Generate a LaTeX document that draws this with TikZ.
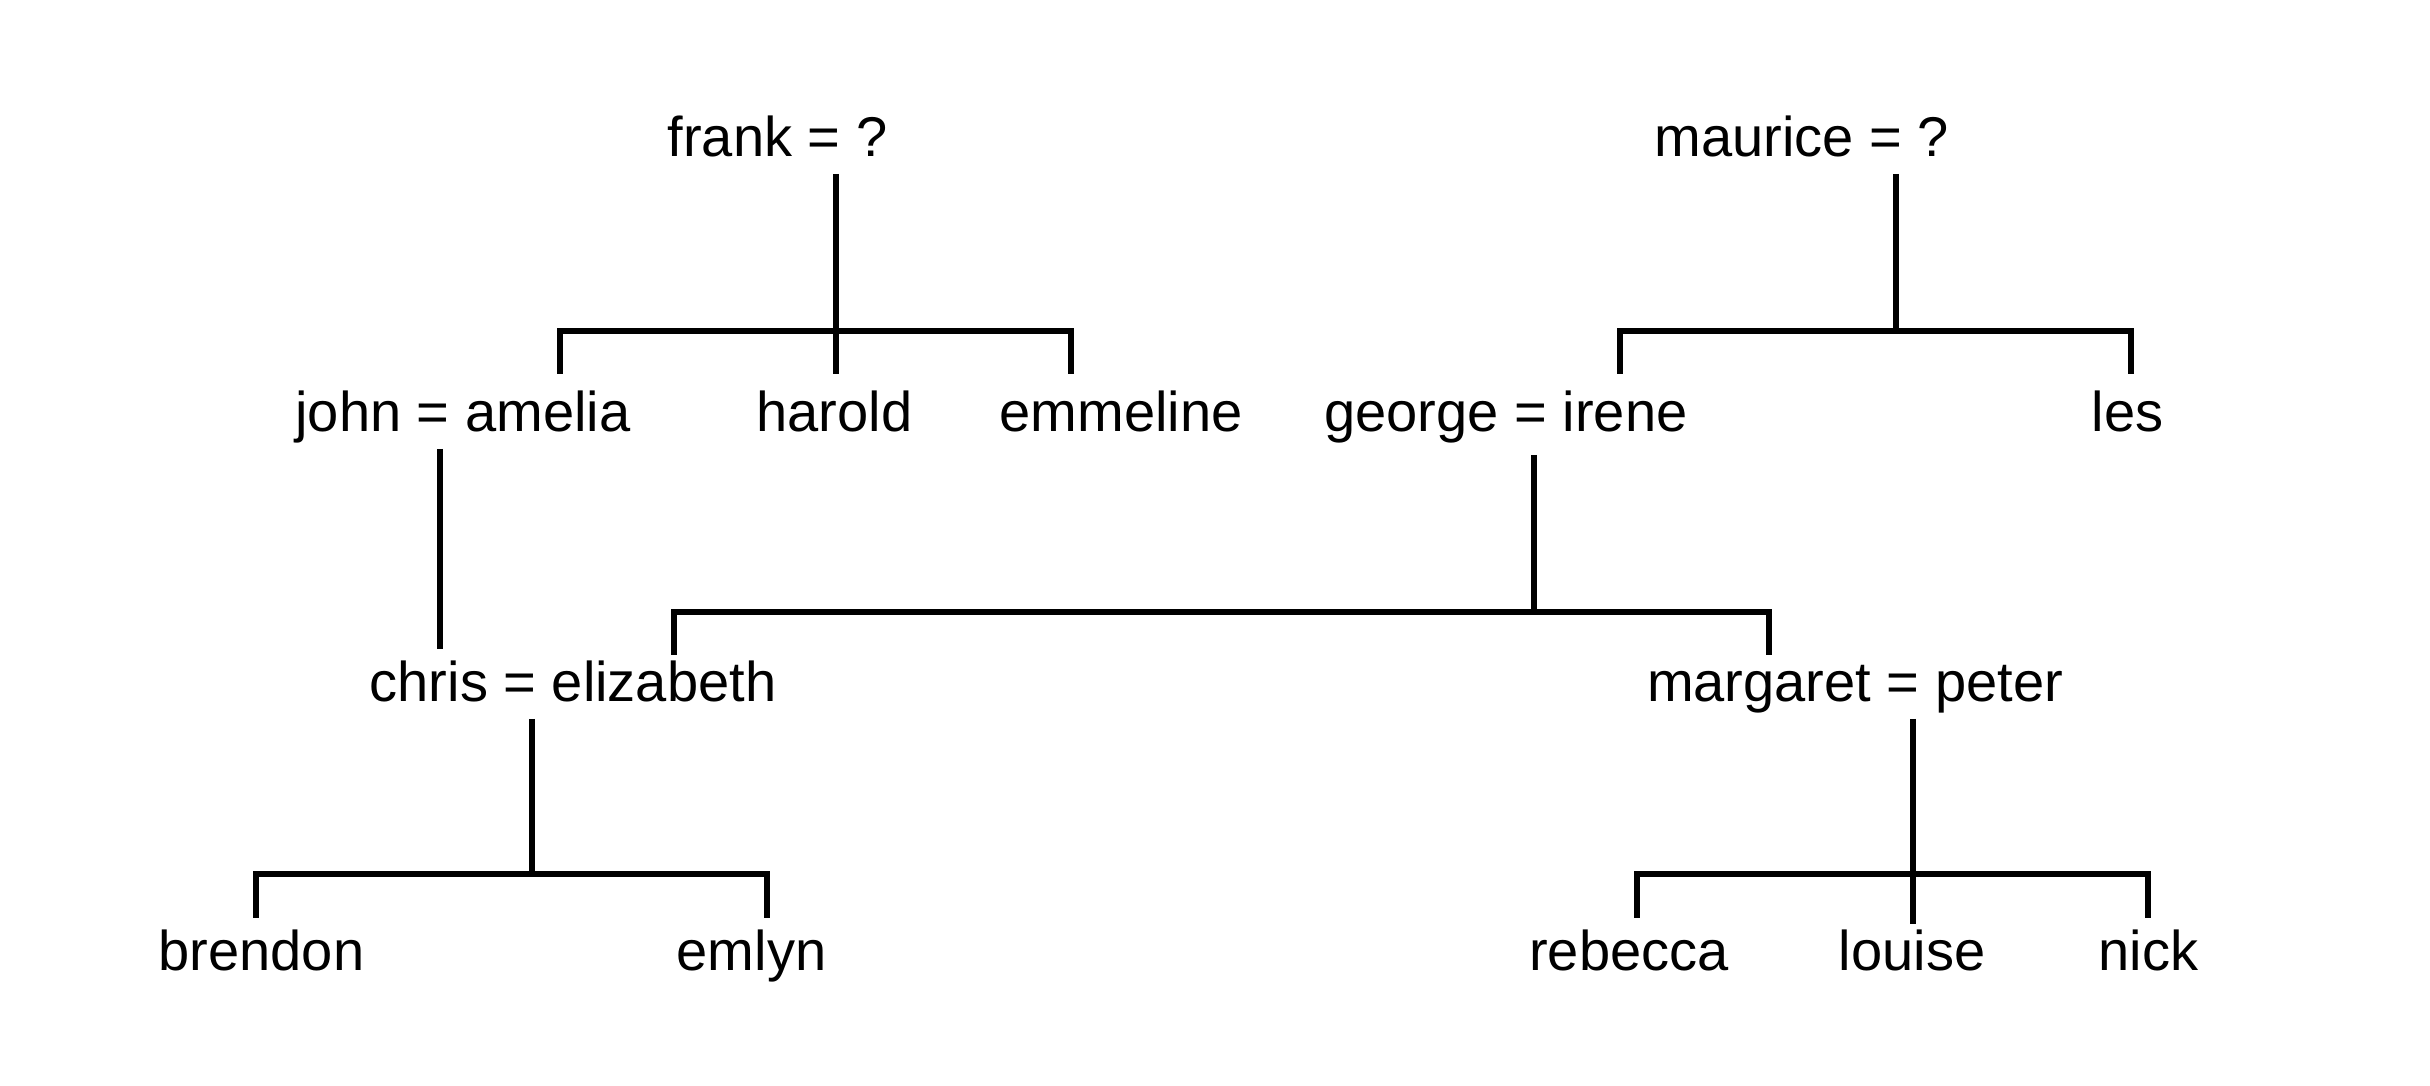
\documentclass[tikz,border=0pt]{standalone}
\usepackage{fontspec}
\setmainfont{Liberation Sans}
\begin{document}
\begin{tikzpicture}[x=0.01cm,y=-0.01cm,
  person/.style={anchor=base,inner sep=0pt,font=\fontsize{15.94}{19}\selectfont},
  link/.style={line width=1.7pt,line cap=butt,line join=miter}]
\useasboundingbox[fill=white] (0,0) rectangle (2430,1086);
% people
\node[person] (frank)    at (777.5,156.5) {frank = ?};
\node[person] (maurice)  at (1802,156.5) {maurice = ?};
\node[person] (john)     at (463,432) {john = amelia};
\node[person] (harold)   at (834.5,432) {harold};
\node[person] (emmeline) at (1121,432) {emmeline};
\node[person] (george)   at (1506,432) {george = irene};
\node[person] (les)      at (2127.5,432) {les};
\node[person] (chris)    at (573,702) {chris = elizabeth};
\node[person] (margaret) at (1855,702) {margaret = peter};
\node[person] (brendon)  at (261.5,971) {brendon};
\node[person] (emlyn)    at (751.5,971) {emlyn};
\node[person] (rebecca)  at (1629,971) {rebecca};
\node[person] (louise)   at (1912,971) {louise};
\node[person] (nick)     at (2148.5,971) {nick};
% junction coordinates
\coordinate (fT) at (836,174);   \coordinate (fJ) at (836,331);
\coordinate (fL) at (560,331);   \coordinate (fR) at (1071,331);
\coordinate (fLd) at (560,374);  \coordinate (fMd) at (836,374); \coordinate (fRd) at (1071,374);
\coordinate (mT) at (1896,174);  \coordinate (mJ) at (1896,331);
\coordinate (mL) at (1620,331);  \coordinate (mR) at (2131,331);
\coordinate (mLd) at (1620,374); \coordinate (mRd) at (2131,374);
\coordinate (jT) at (440,449);   \coordinate (jB) at (440,649);
\coordinate (gT) at (1534,455);  \coordinate (gJ) at (1534,612);
\coordinate (gL) at (674,612);   \coordinate (gR) at (1769,612);
\coordinate (gLd) at (674,655);  \coordinate (gRd) at (1769,655);
\coordinate (cT) at (532,719);   \coordinate (cJ) at (532,874);
\coordinate (cL) at (256,874);   \coordinate (cR) at (767,874);
\coordinate (cLd) at (256,918);  \coordinate (cRd) at (767,918);
\coordinate (pT) at (1913,719);  \coordinate (pJ) at (1913,874);
\coordinate (pL) at (1637,874);  \coordinate (pR) at (2148,874);
\coordinate (pLd) at (1637,918); \coordinate (pMd) at (1913,924); \coordinate (pRd) at (2148,918);
% connectors
\draw[link] (fT) -- (fMd);
\draw[link] (fLd) -- (fL) -- (fR) -- (fRd);
\draw[link] (mT) -- (mJ);
\draw[link] (mLd) -- (mL) -- (mR) -- (mRd);
\draw[link] (jT) -- (jB);
\draw[link] (gT) -- (gJ);
\draw[link] (gLd) -- (gL) -- (gR) -- (gRd);
\draw[link] (cT) -- (cJ);
\draw[link] (cLd) -- (cL) -- (cR) -- (cRd);
\draw[link] (pT) -- (pMd);
\draw[link] (pLd) -- (pL) -- (pR) -- (pRd);
\end{tikzpicture}
\end{document}
